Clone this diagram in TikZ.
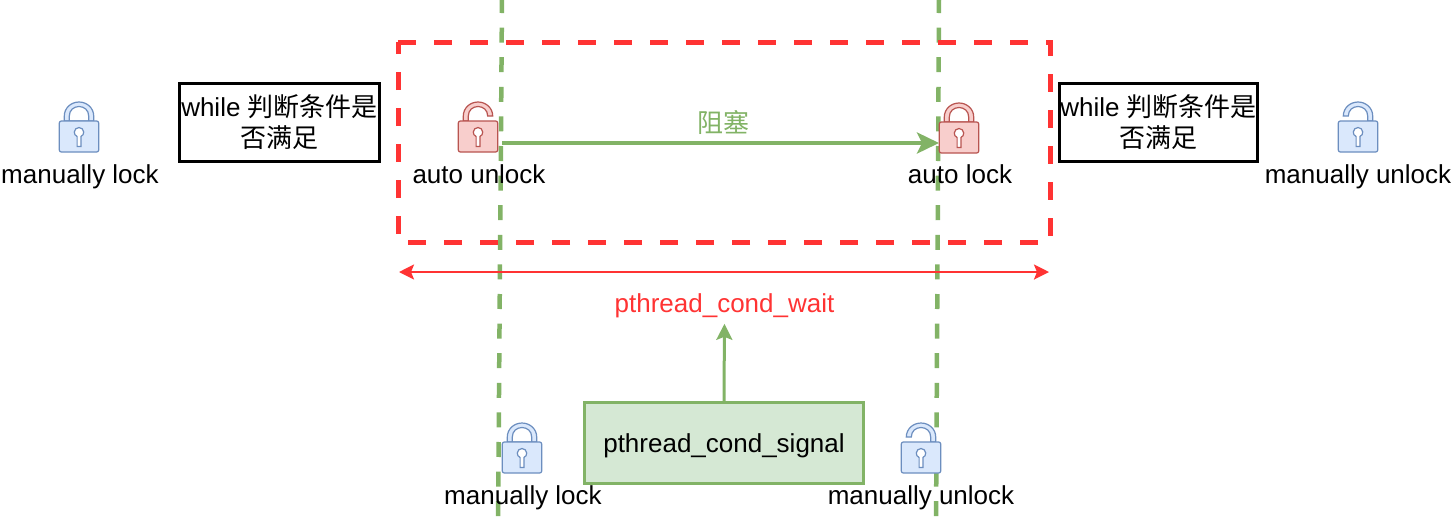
\documentclass[tikz,border=0pt]{standalone}
\usepackage{fontspec}
\setmainfont{Liberation Sans}
\newfontfamily\cjk{Noto Sans CJK SC}
\usetikzlibrary{arrows.meta}

\definecolor{lineblue}{HTML}{6C8EBF}
\definecolor{fillblue}{HTML}{DAE8FC}
\definecolor{linered}{HTML}{B85450}
\definecolor{fillred}{HTML}{F8CECC}
\definecolor{linegreen}{HTML}{82B366}
\definecolor{fillgreen}{HTML}{D5E8D4}
\definecolor{markred}{HTML}{FF3333}

\tikzset{
    lockblue/.style={draw=lineblue, fill=fillblue, line width=0.6pt},
    lockred/.style={draw=linered, fill=fillred, line width=0.6pt},
    locklabel/.style={inner sep=0pt, anchor=base, font=\fontsize{13}{15}\selectfont},
    checkbox/.style={draw=black, line width=1.75pt, minimum width=99pt, minimum height=39pt,
        inner sep=0pt, align=center, font=\fontsize{13}{15.5}\selectfont},
    pics/lockshut/.style={code={
        \filldraw (-14.7,-31) -- (-14.7,-36) .. controls (-14.7,-44) and (-8,-50) .. (0,-50)
            .. controls (8,-50) and (14.7,-44) .. (14.7,-36) -- (14.7,-31) -- cycle;
        \filldraw[fill=white] (-9.7,-31) -- (-9.7,-36) .. controls (-9.7,-42) and (-5,-45.5) .. (0,-45.5)
            .. controls (5,-45.5) and (9.7,-42) .. (9.7,-36) -- (9.7,-31) -- cycle;
        \filldraw[rounded corners=1pt] (-19.7,-31) rectangle (19.7,0);
        \filldraw[fill=white] (-1.9,-5.5) -- (-1.9,-15.5) .. controls (-4,-16.5) and (-4.7,-18) .. (-4.7,-20)
            .. controls (-4.7,-22.5) and (-2.5,-24.5) .. (0,-24.5) .. controls (2.5,-24.5) and (4.7,-22.5) .. (4.7,-20)
            .. controls (4.7,-18) and (4,-16.5) .. (1.9,-15.5) -- (1.9,-5.5) -- cycle;
    }},
    % shackle stays on the right, the open end is on the left
    pics/lockopen/.style={code={
        \filldraw (14.7,-31) -- (14.7,-36) .. controls (14.7,-44) and (8,-50) .. (0,-50)
            .. controls (-8,-50) and (-14.7,-44) .. (-14.7,-36) -- (-9.7,-36)
            .. controls (-9.7,-42) and (-5,-45.5) .. (0,-45.5) .. controls (5,-45.5) and (9.7,-42) .. (9.7,-36)
            -- (9.7,-31) -- cycle;
        \filldraw[rounded corners=1pt] (-19.7,-31) rectangle (19.7,0);
        \filldraw[fill=white] (-1.9,-5.5) -- (-1.9,-15.5) .. controls (-4,-16.5) and (-4.7,-18) .. (-4.7,-20)
            .. controls (-4.7,-22.5) and (-2.5,-24.5) .. (0,-24.5) .. controls (2.5,-24.5) and (4.7,-22.5) .. (4.7,-20)
            .. controls (4.7,-18) and (4,-16.5) .. (1.9,-15.5) -- (1.9,-5.5) -- cycle;
    }}
}

\begin{document}
\begin{tikzpicture}[x=0.5pt, y=-0.5pt]

    \useasboundingbox (0,0) rectangle (1451,526);

    % Free ends of the green and red lines
    \coordinate (waitTop) at (502,-2);
    \coordinate (waitBottom) at (498,526);
    \coordinate (wakeTop) at (939,-2);
    \coordinate (wakeBottom) at (936,526);
    \coordinate (blockStart) at (502,143);
    \coordinate (blockEnd) at (939,143);
    \coordinate (spanLeft) at (399,272);
    \coordinate (spanRight) at (1049,272);

    % Draw the dashed thread boundaries
    \foreach \a/\b in {waitTop/waitBottom, wakeTop/wakeBottom} {
        \draw[linegreen, line width=2.25pt, dash pattern=on 7.5pt off 7.3pt] (\a) -- (\b);
    }

    % Draw the dashed region of the wait call
    \draw[markred, line width=2.5pt, dash pattern=on 9pt off 9pt]
        (398,42) -- (1050,42) -- (1050,242) -- (398,242) -- cycle;

    % Locks
    \pic[lockblue] at (79,152) {lockshut};
    \pic[lockblue] at (522,473) {lockshut};
    \pic[lockblue] at (1358,152) {lockopen};
    \pic[lockblue] at (921,473) {lockopen};
    \pic[lockred, xscale=-1] at (478,152) {lockopen};
    \pic[lockred] at (959,153) {lockshut};

    % Label locks
    \node[locklabel] (lockLeft) at (80,183.4) {manually lock};
    \node[locklabel] (unlockAuto) at (479,183.4) {auto unlock};
    \node[locklabel] (lockAuto) at (960,183.4) {auto lock};
    \node[locklabel] (unlockRight) at (1358,183.4) {manually unlock};
    \node[locklabel] (lockBottom) at (523,504.4) {manually lock};
    \node[locklabel] (unlockBottom) at (921,504.4) {manually unlock};

    % While boxes
    \node[checkbox, minimum width=100pt] (checkLeft) at (279.5,122.5) {while {\cjk 判断条件是}\\{\cjk 否满足}};
    \node[checkbox] (checkRight) at (1158.5,122.5) {while {\cjk 判断条件是}\\{\cjk 否满足}};

    % Blocked span
    \draw[-{Stealth[length=11pt, width=10.5pt, inset=2.5pt]}, linegreen, line width=2pt] (blockStart) -- (blockEnd);
    \node[locklabel, anchor=center, text=linegreen] (blocked) at (723,122) {\cjk 阻塞};

    % Extent of the wait call
    \draw[{Stealth[length=7.5pt, width=7.5pt, inset=1.5pt]}-{Stealth[length=7.5pt, width=7.5pt, inset=1.5pt]}, markred, line width=1.25pt] (spanLeft) -- (spanRight);
    \node[locklabel, text=markred] (waitCall) at (724.5,312) {pthread\_cond\_wait};

    % Signal box
    \node[draw=linegreen, fill=fillgreen, line width=1.5pt, minimum width=139.5pt, minimum height=40.5pt,
        inner sep=0pt] (signalBox) at (724,443) {};
    \node[locklabel] (signalCall) at (724,452) {pthread\_cond\_signal};
    \draw[-{Stealth[length=8pt, width=8pt, inset=1.5pt]}, linegreen, line width=1.5pt, shorten >=3pt] (signalBox.north) -- (waitCall.south);

\end{tikzpicture}
\end{document}
